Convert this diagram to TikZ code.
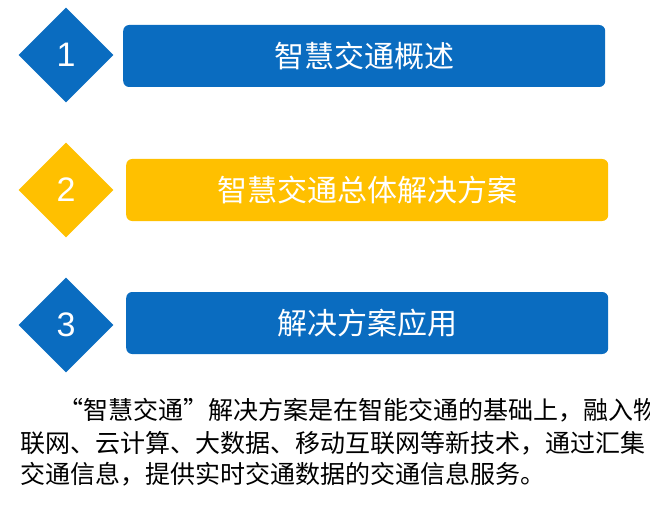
\documentclass[tikz,border=0pt]{standalone}
\usepackage{fontspec}
\setmainfont{Liberation Sans}
\newfontfamily\cjk{Noto Sans CJK SC}
\usetikzlibrary{shapes.geometric,positioning}
\definecolor{itemblue}{HTML}{0A6CC0}
\definecolor{itemgold}{HTML}{FFC000}
\tikzset{
  numbox/.style={diamond,minimum width=95pt,minimum height=95pt,inner sep=0pt,
    text=white,font=\fontsize{34}{34}\selectfont},
  titlebar/.style={rounded corners=6pt,minimum width=482pt,minimum height=62pt,
    anchor=west,text=white,font=\cjk\fontsize{30}{30}\selectfont},
  bodytext/.style={anchor=west,inner sep=0pt,font=\cjk\fontsize{25}{25}\selectfont}
}
\begin{document}
\begin{tikzpicture}[x=1pt,y=-1pt]
  \useasboundingbox (0,0) rectangle (650,505);
  % items
  \node[numbox,fill=itemblue] (n1) at (66,55) {1};
  \node[titlebar,fill=itemblue] (t1) at (123,56) {智慧交通概述};
  \node[numbox,fill=itemgold] (n2) at (66,190) {2};
  \node[titlebar,fill=itemgold] (t2) at (126,190) {智慧交通总体解决方案};
  \node[numbox,fill=itemblue] (n3) at (66,325) {3};
  \node[titlebar,fill=itemblue] (t3) at (126,323) {解决方案应用};
  % paragraph
  \node[bodytext] (p1) at (58,410) {“智慧交通”解决方案是在智能交通的基础上，融入物};
  \node[bodytext] (p2) at (20,443) {联网、云计算、大数据、移动互联网等新技术，通过汇集};
  \node[bodytext] (p3) at (20,474) {交通信息，提供实时交通数据的交通信息服务。};
\end{tikzpicture}
\end{document}
